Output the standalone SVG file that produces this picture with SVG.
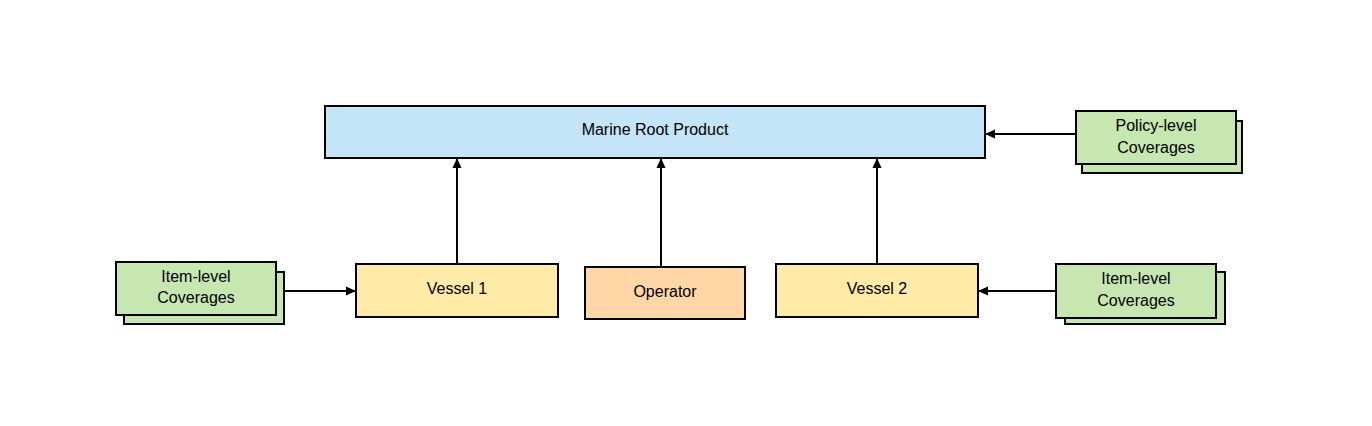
<svg xmlns="http://www.w3.org/2000/svg" width="1372" height="426" viewBox="0 0 1372 426">
<style>
rect{stroke:#000;stroke-width:2}
.g{fill:#c7e7b0}.y{fill:#ffeaa8}.o{fill:#ffd7a6}.b{fill:#c4e4f7}
text{font-family:"Liberation Sans",Arial,sans-serif;font-size:16px;text-anchor:middle;fill:#000}
.c line{stroke:#000;stroke-width:2;marker-end:url(#a)}
</style>
<defs><marker id="a" markerWidth="10" markerHeight="10" refX="9" refY="5" orient="auto" markerUnits="userSpaceOnUse"><path d="M0,0.5L10,5L0,9.5z" fill="#000"/></marker></defs>
<rect width="1372" height="426" fill="#fff" style="stroke:none"/>
<g id="root"><rect class="b" x="325" y="106" width="660" height="52"/><text x="655" y="135">Marine Root Product</text></g>
<g id="policy"><rect class="g" x="1082" y="121" width="160" height="52"/><rect class="g" x="1076" y="111" width="160" height="53"/><text x="1156" y="131">Policy-level</text><text x="1156" y="153">Coverages</text></g>
<g id="item1"><rect class="g" x="124" y="272" width="160" height="52"/><rect class="g" x="116" y="262" width="160" height="53"/><text x="196" y="282">Item-level</text><text x="196" y="303">Coverages</text></g>
<g id="item2"><rect class="g" x="1065" y="272" width="160" height="52"/><rect class="g" x="1056" y="264" width="160" height="54"/><text x="1136" y="284">Item-level</text><text x="1136" y="306">Coverages</text></g>
<g id="vessel1"><rect class="y" x="356" y="264" width="202" height="53"/><text x="457" y="294">Vessel 1</text></g>
<g id="operator"><rect class="o" x="585" y="267" width="160" height="52"/><text x="665" y="297">Operator</text></g>
<g id="vessel2"><rect class="y" x="776" y="264" width="202" height="53"/><text x="877" y="294">Vessel 2</text></g>
<g class="c">
<line x1="457" y1="264" x2="457" y2="159"/>
<line x1="661" y1="267" x2="661" y2="159"/>
<line x1="877" y1="264" x2="877" y2="159"/>
<line x1="284" y1="291" x2="355" y2="291"/>
<line x1="1076" y1="134" x2="986" y2="134"/>
<line x1="1056" y1="291" x2="979" y2="291"/>
</g>
</svg>
